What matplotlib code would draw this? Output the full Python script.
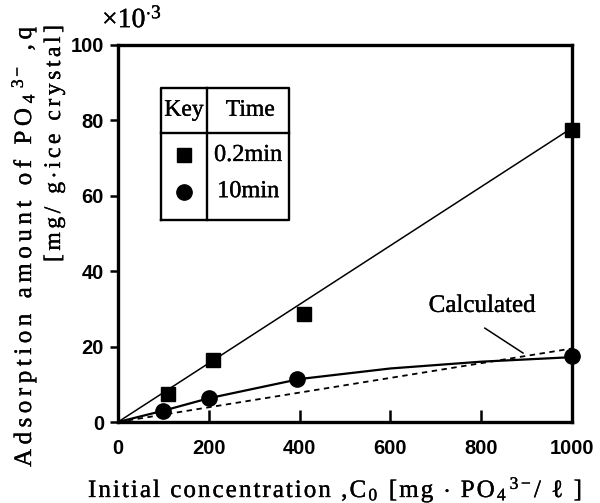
import re
import numpy as np
import matplotlib
matplotlib.use('Agg')
import matplotlib.pyplot as plt
from matplotlib.lines import Line2D
import matplotlib.patheffects as pe

plt.rcParams['mathtext.fontset'] = 'custom'
plt.rcParams['mathtext.rm'] = 'Liberation Serif'
plt.rcParams['mathtext.it'] = 'Liberation Serif:italic'

# data (q in 1e-3 mg/g-ice crystal)
c0_sq = [110, 210, 410, 1000]
q_sq = [7.4, 16.4, 28.6, 77.5]
c0_ci = [100, 200, 395, 1000]
q_ci = [2.9, 6.3, 11.4, 17.5]

line_x = [0, 1000]
line_y = [0, 78]
curve_x = [0, 100, 200, 400, 600, 800, 1000]
curve_y = [0, 3.0, 6.3, 11.4, 14.2, 16.0, 17.2]
calc_x = [0, 1000]
calc_y = [0, 19.5]

xticks = [0, 200, 400, 600, 800, 1000]
yticks = [0, 20, 40, 60, 80, 100]

xlabel = r'Initial concentration ,C${}_0$ [mg ${\cdot}$ PO${}_4$${}^{3-}$/ ℓ ]'
ylabel1 = r'Adsorption amount of PO${}_4$${}^{3-}$ ,q'
ylabel2 = r'[mg/ g${\cdot}$ice crystal]'

serif = ['Liberation Serif', 'DejaVu Serif']
W, H = 600, 503
# the scanned type is a bit heavier than plain Times
heavy = [pe.withStroke(linewidth=0.25, foreground='black')]


def tokens(s):
    out = []
    for p in re.split(r'(\$[^$]*\$)', s):
        if p.startswith('$'):
            out.append(p)
        else:
            out.extend(list(p))
    return out


def tracked(s, x, y, size, length, rotated=False):
    # letter-spaced label: x, y is the start of the baseline in pixels from top-left
    r = fig.canvas.get_renderer()
    toks = tokens(s)
    widths = []
    for tk in toks:
        if tk == ' ':
            widths.append(size * 100 / 72 * 0.25)
            continue
        t = fig.text(0, 0, tk, family=serif, fontsize=size)
        widths.append(t.get_window_extent(r).width)
        t.remove()
    gap = (length - sum(widths)) / (len(toks) - 1)
    pos = 0
    for tk, w in zip(toks, widths):
        if tk != ' ':
            if rotated:
                fx, fy = x / W, 1 - (y - pos) / H
            else:
                fx, fy = (x + pos) / W, 1 - y / H
            fig.text(fx, fy, tk, family=serif, fontsize=size, ha='left', va='baseline',
                     rotation=90 if rotated else 0, rotation_mode='anchor', path_effects=heavy)
        pos += w + gap


fig = plt.figure(figsize=(W / 100, H / 100), dpi=100)
ax = fig.add_axes([118 / W, 1 - 422 / H, 454 / W, 377 / H])

ax.plot(line_x, line_y, color='black', lw=1.1)
ax.plot(curve_x, curve_y, color='black', lw=1.6)
ax.plot(calc_x, calc_y, color='black', lw=1.3, ls=(0, (3, 2.5)))
ax.plot(c0_sq, q_sq, 's', color='black', ms=10, clip_on=False)
ax.plot(c0_ci, q_ci, 'o', color='black', ms=11, clip_on=False)

ax.set_xlim(0, 1000)
ax.set_ylim(0, 100)
ax.set_xticks(xticks)
ax.set_yticks(yticks)
for s in ['left', 'bottom', 'right', 'top']:
    ax.spines[s].set_linewidth(2.4)
ax.tick_params(axis='x', direction='in', length=9, width=1.8, pad=12)
ax.tick_params(axis='y', direction='out', length=6, width=1.8, pad=4)
for lab in ax.get_xticklabels() + ax.get_yticklabels():
    lab.set_fontfamily('Liberation Sans')
    lab.set_fontweight('bold')
    lab.set_fontsize(14.5)

# Calculated annotation
ax.text(802, 30.8, 'Calculated', family=serif, fontsize=18, ha='center', va='center', path_effects=heavy)
ax.plot([808, 892], [24.9, 18.3], color='black', lw=1.1)

# key table
tr = ax.transAxes
x0, x1, xm = 0.0947, 0.377, 0.196
y0, y1, ym = 0.536, 0.886, 0.767
for xs, ys in [([x0, x1, x1, x0, x0], [y0, y0, y1, y1, y0]),
               ([xm, xm], [y0, y1]), ([x0, x1], [ym, ym])]:
    ax.add_line(Line2D(xs, ys, color='black', lw=1.7, transform=tr))
kw = dict(family=serif, ha='center', va='center', transform=tr, path_effects=heavy)
ax.text((x0 + xm) / 2, 0.827, 'Key', fontsize=17, **kw)
ax.text((xm + x1) / 2 + 0.005, 0.827, 'Time', fontsize=17, **kw)
ax.plot([(x0 + xm) / 2], [0.707], 's', color='black', ms=9.5, transform=tr)
ax.plot([(x0 + xm) / 2], [0.611], 'o', color='black', ms=11, transform=tr)
ax.text((xm + x1) / 2, 0.707, '0.2min', fontsize=17.5, **kw)
ax.text((xm + x1) / 2, 0.611, '10min', fontsize=17.5, **kw)

# axis labels with wide letter spacing
tracked(xlabel, 88, 497, 18, 494)
tracked(ylabel1, 31, 467, 18, 440, rotated=True)
tracked(ylabel2, 60, 262, 17, 237, rotated=True)
fig.text(102 / W, 1 - 20 / H, r'×10$^{\cdot 3}$', family=serif, fontsize=20, ha='left', va='center',
         path_effects=heavy)

fig.savefig('out.png', dpi=100)
